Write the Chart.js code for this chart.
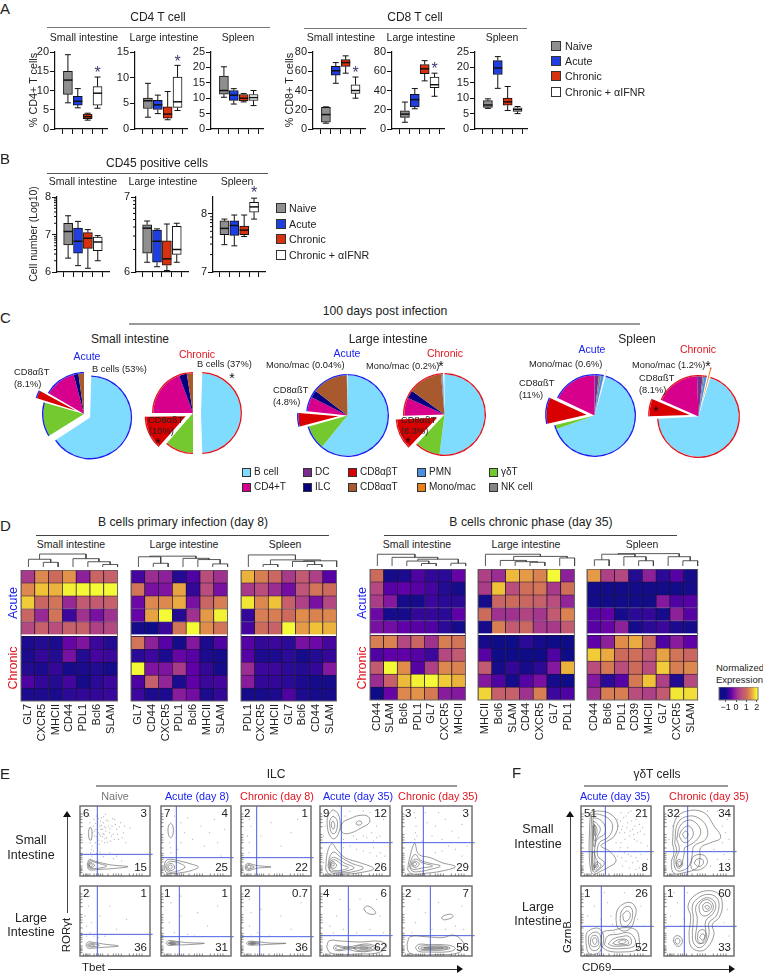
<!DOCTYPE html>
<html>
<head>
<meta charset="utf-8">
<script src="https://cdn.jsdelivr.net/npm/chart.js@4"></script>
<style>
body { margin: 0; background: #fff; }
#fig { position: relative; width: 763px; height: 973px; overflow: hidden; font-family: "Liberation Sans", sans-serif; color: #222; }
#fig canvas { position: absolute; }
.t { position: absolute; white-space: nowrap; line-height: 1; }
.r { position: absolute; }
</style>
</head>
<body>
<div id="fig"></div>
<script>
// box plot rows are [min, q1, median, q3, max] for naive, acute, chronic, chronic + aIFNR
const groupColors = ['#8f8f8f', '#1f3fe0', '#d8310f', '#ffffff'];
const groupNames = ['Naive', 'Acute', 'Chronic', 'Chronic + αIFNR'];

const cd4Small = [[6.8, 9, 12.7, 15, 19.3], [5.5, 6.2, 7.2, 8.5, 10.5], [2.3, 2.7, 3.2, 3.9, 4.1], [5.4, 6.2, 9.3, 11, 13.5]];
const cd4Large = [[2.3, 4, 5.5, 6, 8.9], [3, 3.8, 4.7, 5.6, 6.6], [1.8, 2.1, 2.9, 4.3, 7.3], [3.6, 4.2, 5.3, 10.1, 12.4]];
const cd4Spleen = [[10.3, 11.3, 12.5, 17.2, 20.2], [8.1, 9.3, 11, 12.5, 13.1], [8.8, 9.1, 10, 11.2, 11.5], [7.6, 9.3, 10.2, 11.2, 12.5]];
const cd8Small = [[6, 7, 15, 22.5, 23], [47.5, 56, 60.5, 65, 69], [58, 65, 69, 72, 76], [32, 37, 40, 46, 54]];
const cd8Large = [[7, 12, 15.5, 19, 28], [21, 23, 30.5, 36, 42], [50, 57.5, 62.5, 67, 71], [34, 43, 46, 54, 58]];
const cd8Spleen = [[6.7, 7, 7.8, 9.2, 9.8], [13.2, 17.7, 19.8, 22.2, 23.5], [6, 7.7, 8.8, 10, 13.8], [5, 5.7, 6.3, 6.9, 7.3]];
const cd45Small = [[6.37, 6.72, 7.08, 7.3, 7.5], [6.17, 6.5, 6.82, 7.17, 7.35], [6.1, 6.63, 6.9, 7.05, 7.13], [6.3, 6.57, 6.8, 6.93, 6.97]];
const cd45Large = [[6.13, 6.25, 6.585, 6.63, 6.68], [6.07, 6.13, 6.41, 6.56, 6.575], [6.02, 6.09, 6.175, 6.415, 6.64], [6.13, 6.235, 6.3, 6.61, 6.65]];
const cd45Spleen = [[7.47, 7.64, 7.75, 7.88, 7.91], [7.45, 7.63, 7.8, 7.88, 7.98], [7.61, 7.64, 7.72, 7.79, 7.98], [7.91, 8.03, 8.12, 8.2, 8.27]];
const logMinor = [0.3, 0.48, 0.6, 0.7, 0.78, 0.85, 0.9, 0.95];

// pie shares, same order as cellNames
const cellNames = ['B cell', 'γδT', 'CD8αβT', 'CD4+T', 'DC', 'ILC', 'CD8ααT', 'NK cell', 'PMN', 'Mono/mac'];
const cellColors = ['#7fdcff', '#73c92d', '#d80000', '#d6008c', '#7b2d8e', '#060080', '#a85a2e', '#858585', '#4a90e2', '#e8801a'];
const pieSmallAcute = [66.1, 13.3, 3.9, 12.5, 0, 1.9, 2.2, 0, 0, 0];
const pieSmallChronic = [50, 11.4, 13.6, 19.3, 0, 3.2, 2.5, 0, 0, 0];
const pieLargeAcute = [60.8, 9.7, 6.1, 5.8, 0, 3, 14.2, 0.1, 0, 0.2];
const pieLargeChronic = [52, 10, 12.5, 7.2, 0, 3.3, 13.6, 0.5, 0.3, 0.6];
const pieSpleenAcute = [65, 1.7, 10.8, 18, 1.7, 0, 0, 0.8, 1.1, 0.8];
const pieSpleenChronic = [69.4, 0, 7.5, 17.8, 2.2, 0, 0, 0.6, 1, 1.5];

// heatmap values on the -1..2 normalized scale, top row first
const heatSmall8 = [[0.2, 1.3, 1, 1.4, -0.1, 0.9, 0.8], [1.3, 1.7, 1.6, 1.95, 2, 2, 2], [1.75, 0.9, 1.1, 0, 0.7, 0.7, 0.8], [0.9, 0, 1.1, -0.7, 0.1, -0.3, 0.1], [0.4, 0.8, 0.5, 0.8, 0.8, 0.3, 0.4],
  [-0.9, -0.85, -0.9, -0.45, -0.25, -0.7, -0.85], [-0.9, -0.75, -0.85, -0.3, -0.85, -0.65, -0.7], [-0.85, -0.9, -0.75, -0.95, -0.9, -0.85, -0.95], [-0.6, -0.75, -0.85, -0.65, -0.95, -0.8, -0.7], [-0.9, -0.9, -0.92, -0.8, -0.75, -0.75, -0.72]];
const heatLarge8 = [[-0.65, 0.05, -0.1, -0.85, -0.6, 0.5, 0.1], [1.1, -0.3, -0.25, 1.5, -0.75, 0.5, -0.3], [-0.4, 1.3, 1.3, 1.55, -0.3, 0.9, 1.2], [-0.45, 1.5, 2, -0.85, 0.1, 1.45, 1.95], [-0.95, -1, -0.7, 1.1, 2, 1.35, 1.1],
  [1.1, -0.1, -0.55, -0.95, -0.2, -0.9, -0.6], [-0.8, -0.7, -0.9, -0.45, -0.55, -0.9, -0.95], [2, -0.25, -0.25, 0.2, -0.5, -0.75, -0.95], [-0.6, 0.8, -0.05, -0.9, -0.5, -0.7, -0.65], [-0.7, -0.9, -0.9, -0.15, -0.35, -0.9, -0.75]];
const heatSpleen8 = [[1.6, 1.2, 0.95, 0.2, 0.7, 0.3, -0.55], [0.2, 0.5, 0.05, -0.35, 0.6, 1.1, 1], [1.9, 1.3, 1.7, 0.8, 0.3, -0.3, 0.4], [-0.75, 1.2, 1.2, 1, 1.35, 1.25, 1.3], [-0.65, 1, 0.85, 2, 1.45, 1.7, 1.6],
  [-0.55, -0.75, -0.7, -0.8, -0.3, -0.4, -0.65], [-0.55, -0.9, -0.9, -0.8, -0.95, -0.85, -0.75], [0.05, -0.7, -0.7, -0.8, -0.85, -0.75, -0.2], [-0.15, -0.75, -0.75, -0.8, -0.9, -0.95, -0.95], [-0.95, -0.95, -0.9, -0.6, -0.9, -0.95, -0.95]];
const heatSmall35 = [[1, -0.95, -0.9, -0.6, -0.75, -0.8, -0.45], [0.4, -0.55, -0.5, -0.55, -0.65, -0.85, -0.95], [0.25, -0.2, -0.95, -0.95, -0.7, -0.8, -0.8], [-0.4, -0.95, -0.95, -0.75, -0.75, -0.8, -0.5], [-0.3, -0.35, -0.5, -0.55, -0.6, -0.8, -0.95],
  [1.2, 1.25, 0.4, 0.9, 0.1, 1.2, 1.1], [-0.6, -0.5, -0.5, -0.55, -0.7, 0.4, 0.7], [0.7, 2, 1.35, -0.55, 0.3, 1.3, 1.25], [0.05, 0.8, 1.65, 1.95, 2, 1.75, 1.6], [-1, -0.45, 1.3, 1.4, 1.15, -0.15, -0.2]];
const heatLarge35 = [[0.3, 0.05, 1.65, 1.45, 1.25, 2, -0.1], [0.25, 1.7, 0.5, 1.05, 1.1, 0.2, 1.05], [-0.95, 0.9, 1, 0.95, 0.8, 0.5, -0.05], [1, 0.1, 0.1, 0.35, 0.15, 0.7, 1.25], [-0.95, 1.2, 0.7, 0.95, 0.2, 0.2, 0.7],
  [-0.95, -1, -1, -0.8, -0.95, -1, -1], [-0.55, -1, -1, -1, -1, -0.6, -1], [0.7, -0.95, -0.75, -0.95, -0.8, -0.2, 1.6], [-0.2, -0.6, -0.95, -0.55, -0.3, -0.95, -1], [1.8, 0.8, 0.8, 0.1, 1.2, -0.7, -0.6]];
const heatSpleen35 = [[1.45, 0.3, 0.4, -0.85, -0.1, -0.8, -0.55, -0.95], [-0.98, -0.97, -0.98, -0.98, -0.98, -0.98, -0.97, -0.95], [-0.98, -0.98, -0.98, -0.98, -0.98, -0.2, -0.6, -0.55], [-0.55, -0.5, -0.95, -0.8, -0.75, -0.95, -0.1, -0.55], [-0.55, -0.45, -0.1, -0.95, -0.8, -0.7, -0.9, -0.95],
  [-0.5, -0.1, 1.35, 1.55, 0.95, -0.6, -0.15, -0.5], [1.75, 1.55, 1, 1.05, 0.7, 1.5, 1.1, 0.95], [0.5, 1.15, 0.5, 1, 0.5, 1.75, 1.2, 1.3], [-0.2, -0.8, -0.55, 1.15, 1.7, 0.3, -0.85, 0.4], [0.1, 1.2, 1.2, 0.5, 0.3, 0.7, 1.9, 1.85]];

const markersSmall8 = ['GL7', 'CXCR5', 'MHCII', 'CD44', 'PDL1', 'Bcl6', 'SLAM'];
const markersLarge8 = ['GL7', 'CD44', 'CXCR5', 'PDL1', 'Bcl6', 'MHCII', 'SLAM'];
const markersSpleen8 = ['PDL1', 'CXCR5', 'MHCII', 'GL7', 'Bcl6', 'CD44', 'SLAM'];
const markersSmall35 = ['CD44', 'SLAM', 'Bcl6', 'PDL1', 'GL7', 'CXCR5', 'MHCII'];
const markersLarge35 = ['MHCII', 'Bcl6', 'SLAM', 'CD44', 'CXCR5', 'GL7', 'PDL1'];
const markersSpleen35 = ['CD44', 'Bcl6', 'PDL1', 'CD39', 'MHCII', 'GL7', 'CXCR5', 'SLAM'];

// dendrogram merges: left leaf, right leaf, left height, right height, top height
const treeSmall8 = [[1, 2, 0, 0, 15], [0, 1.5, 0, 15, 25], [5, 6, 0, 0, 8], [4, 5.5, 0, 8, 17], [3, 4.75, 0, 17, 27], [0.75, 3.875, 25, 27, 42]];
const treeLarge8 = [[1, 2, 0, 0, 12], [0, 1.5, 0, 12, 33], [5, 6, 0, 0, 10], [4, 5.5, 0, 10, 24], [3, 4.75, 0, 24, 28], [0.75, 3.875, 33, 28, 35]];
const treeSpleen8 = [[1, 2, 0, 0, 8], [4, 5, 0, 0, 8], [3, 4.5, 0, 8, 18], [3.75, 6, 18, 0, 20], [1.5, 4.9, 8, 20, 23], [0, 3.2, 0, 23, 39]];
const treeSmall35 = [[3, 4, 0, 0, 8], [2, 3.5, 0, 8, 16], [5, 6, 0, 0, 9], [2.75, 5.5, 16, 9, 22], [1, 4.1, 0, 22, 28], [0, 2.55, 0, 28, 38]];
const treeLarge35 = [[3, 4, 0, 0, 12], [2, 3.5, 0, 12, 14], [1, 2.75, 0, 14, 18], [5, 6, 0, 0, 26], [1.9, 5.5, 18, 26, 31], [0, 3.7, 0, 31, 38]];
const treeSpleen35 = [[0, 1, 0, 0, 20], [3, 4, 0, 0, 17], [2, 3.5, 0, 17, 30], [0.5, 2.75, 20, 30, 38], [6, 7, 0, 0, 17], [5, 6.5, 0, 17, 30], [1.6, 5.75, 38, 30, 40]];

const scaleValues = [-1, -0.8, -0.5, -0.2, 0.2, 0.6, 1, 1.4, 1.7, 2];
const scaleColors = ['#0f0c87', '#2a0a96', '#6000a8', '#84189e', '#a83a8a', '#bf5578', '#cc6a5c', '#e3924a', '#f0c238', '#f4fa35'];

// flow plots use 0..210 on both axes; contours and dots are flat x,y lists
const flowTicks = [10, 16, 20, 24, 30, 42, 50, 56, 62, 68, 84, 100, 108, 116, 124, 148, 160, 170, 178, 186];
const naiveSmallLines = [[31, 147, 35, 141, 36, 127, 35, 113, 31, 107, 27, 113, 26, 127, 27, 141, 31, 147], [22, 36, 28, 50, 40, 46, 62, 40, 95, 33, 144, 28, 95, 22, 60, 20, 40, 18, 26, 20, 22, 36], [25, 35, 30, 46, 42, 42, 62, 36, 80, 30, 60, 24, 40, 22, 28, 24, 25, 35], [27, 34, 32, 42, 40, 36, 44, 32, 38, 26, 30, 26, 27, 34], [29, 33, 33, 38, 37, 33, 34, 28, 30, 29, 29, 33]];
const naiveSmallDots = [30, 100, 34, 110, 36, 90, 38, 130, 40, 150, 42, 170, 44, 120, 46, 100, 48, 140, 50, 180, 52, 110, 54, 160, 56, 130, 58, 95, 60, 150, 62, 120, 64, 175, 66, 105, 68, 140, 70, 160, 72, 125, 74, 100, 76, 185, 78, 145, 80, 115, 84, 165, 88, 130, 92, 105, 96, 150, 100, 125, 104, 170, 110, 140, 116, 110, 122, 160, 130, 130, 138, 100, 150, 145, 30, 160, 28, 180, 32, 70, 34, 80, 60, 72, 90, 70, 110, 60, 125, 45,
  44, 135, 47, 158, 49, 118, 53, 145, 55, 172, 57, 108, 59, 125, 61, 165, 63, 140, 65, 152, 67, 118, 69, 128, 71, 178, 73, 148, 75, 112, 77, 135, 79, 168, 82, 102, 86, 150, 90, 142, 94, 120, 98, 172, 102, 110, 106, 155, 112, 125, 118, 148, 126, 115, 134, 150, 36, 60, 40, 75, 50, 68, 70, 58, 80, 64, 100, 52];
const acute8SmallLines = [[29, 159, 35, 152, 37, 137, 35, 122, 29, 115, 23, 122, 21, 137, 23, 152, 29, 159], [9, 28, 15, 46, 30, 50, 60, 44, 90, 36, 112, 27, 90, 16, 60, 10, 30, 7, 15, 12, 9, 28], [13, 28, 19, 40, 32, 44, 56, 38, 72, 27, 56, 17, 32, 11, 20, 15, 13, 28], [17, 27, 22, 36, 30, 38, 38, 33, 41, 27, 38, 20, 30, 16, 22, 18, 17, 27], [22, 27, 25, 32, 29, 33, 33, 30, 34, 27, 31, 22, 27, 21, 23, 23, 22, 27]];
const acute8SmallDots = [25, 100, 28, 85, 30, 70, 60, 160, 70, 130, 80, 175, 95, 110, 120, 150, 130, 90, 145, 130, 160, 170, 170, 100, 40, 180, 50, 80, 60, 100, 180, 60, 190, 140];
const chronic8SmallLines = [[12, 27, 16, 36, 24, 38, 36, 34, 52, 31, 90, 27, 52, 24, 36, 20, 24, 16, 16, 18, 12, 27], [15, 27, 19, 33, 25, 34, 34, 30, 40, 27, 34, 24, 25, 20, 19, 21, 15, 27], [18, 27, 21, 31, 26, 31, 30, 28, 29, 24, 25, 23, 20, 24, 18, 27]];
const chronic8SmallDots = [20, 120, 25, 100, 24, 70, 25, 170, 30, 150, 60, 120, 90, 160, 120, 90, 150, 130, 170, 170];
const naiveLargeLines = [[18, 32, 24, 42, 45, 40, 70, 36, 115, 30, 70, 26, 45, 24, 24, 24, 18, 32], [22, 32, 28, 38, 45, 36, 58, 32, 45, 28, 28, 28, 22, 32], [26, 32, 32, 35, 40, 34, 44, 32, 40, 30, 32, 30, 26, 32]];
const naiveLargeDots = [15, 120, 20, 90, 25, 150, 30, 70, 35, 100, 42, 60, 55, 55, 60, 120, 75, 60, 90, 150, 110, 80, 140, 110, 20, 60, 30, 180];
const acute8LargeLines = [[15, 38, 22, 46, 45, 44, 80, 40, 130, 38, 80, 34, 45, 33, 22, 32, 15, 38], [20, 38, 28, 43, 42, 42, 56, 38, 42, 35, 28, 35, 20, 38], [24, 38, 30, 41, 38, 40, 46, 38, 38, 36, 30, 36, 24, 38], [28, 38, 32, 40, 38, 39, 40, 38, 37, 37, 32, 37, 28, 38]];
const acute8LargeDots = [25, 100, 40, 70, 60, 120, 80, 65, 110, 130, 140, 90, 170, 150, 30, 160, 60, 180, 100, 60];
const chronic8LargeLines = [[16, 38, 24, 44, 48, 43, 85, 39, 135, 38, 85, 35, 48, 33, 24, 33, 16, 38], [21, 38, 28, 42, 42, 41, 56, 38, 42, 36, 28, 35, 21, 38], [25, 38, 31, 40, 38, 40, 46, 38, 38, 36, 31, 36, 25, 38], [29, 38, 33, 40, 38, 39, 40, 38, 37, 37, 33, 37, 29, 38]];
const chronic8LargeDots = [25, 90, 30, 60, 30, 130, 50, 70, 60, 140, 85, 60, 120, 120, 150, 80, 180, 160, 25, 170];
const acute35SmallLines = [[38, 199, 52, 190, 60, 165, 58, 135, 44, 112, 30, 120, 22, 150, 24, 180, 38, 199], [39, 180, 50, 170, 52, 150, 46, 130, 36, 128, 30, 145, 30, 168, 39, 180], [39, 165, 44, 155, 42, 142, 38, 142, 34, 150, 35, 160, 39, 165], [62, 140, 68, 160, 90, 172, 120, 182, 145, 178, 148, 160, 125, 145, 95, 130, 70, 128, 62, 140], [108, 159, 115, 165, 124, 163, 125, 157, 118, 153, 110, 154, 108, 159], [17, 20, 22, 70, 36, 97, 50, 80, 75, 55, 120, 40, 161, 22, 120, 10, 70, 5, 30, 4, 17, 20], [24, 30, 30, 60, 42, 72, 60, 58, 95, 38, 130, 24, 95, 12, 60, 9, 34, 10, 24, 30], [27, 34, 34, 54, 48, 54, 75, 38, 102, 25, 75, 14, 50, 12, 32, 16, 27, 34], [30, 36, 36, 48, 50, 46, 65, 34, 85, 25, 62, 17, 42, 17, 32, 24, 30, 36], [32, 36, 38, 44, 46, 38, 50, 32, 44, 24, 36, 24, 32, 30, 32, 36], [35, 36, 39, 40, 43, 36, 42, 31, 38, 30, 35, 32, 35, 36]];
const acute35SmallDots = [70, 110, 75, 180, 90, 195, 100, 120, 110, 110, 130, 120, 140, 115, 155, 130, 170, 150, 180, 120, 190, 170, 185, 100, 175, 190, 70, 85, 90, 90, 110, 80, 130, 75, 160, 85, 180, 70, 195, 60, 195, 30, 185, 40, 170, 60, 150, 70, 10, 120, 15, 150, 10, 40, 12, 180, 130, 195, 150, 190, 170, 115, 160, 105];
const chronic35SmallLines = [[17, 20, 22, 50, 38, 98, 50, 65, 85, 55, 120, 40, 160, 28, 120, 15, 70, 8, 30, 6, 17, 20], [22, 28, 28, 50, 40, 65, 55, 48, 85, 38, 115, 30, 85, 20, 55, 14, 32, 14, 22, 28], [26, 30, 32, 46, 44, 50, 60, 40, 92, 30, 60, 24, 42, 20, 28, 22, 26, 30], [30, 34, 36, 44, 46, 42, 52, 36, 44, 27, 34, 27, 30, 34], [33, 36, 38, 41, 44, 36, 40, 31, 35, 31, 33, 36]];
const chronic35SmallDots = [38, 110, 40, 130, 42, 150, 40, 175, 36, 190, 45, 120, 60, 105, 75, 160, 90, 120, 100, 150, 120, 110, 130, 170, 150, 135, 170, 115, 180, 155, 195, 90, 160, 80, 140, 90, 120, 75, 100, 70, 180, 60, 190, 40, 70, 190, 110, 190];
const acute35LargeLines = [[131, 142, 142, 150, 160, 140, 167, 128, 155, 125, 140, 130, 131, 142], [20, 28, 28, 46, 60, 45, 120, 42, 180, 44, 200, 30, 175, 10, 120, 6, 60, 5, 30, 10, 20, 28], [40, 24, 45, 32, 62, 30, 90, 28, 110, 32, 145, 36, 175, 24, 145, 14, 110, 14, 85, 19, 60, 16, 45, 18, 40, 24], [46, 24, 52, 29, 62, 26, 75, 23, 62, 20, 52, 19, 46, 24], [100, 24, 112, 30, 140, 32, 165, 24, 140, 16, 112, 17, 100, 24], [110, 24, 125, 28, 145, 26, 155, 24, 140, 20, 122, 20, 110, 24], [118, 24, 130, 26, 145, 24, 130, 22, 118, 24], [70, 24, 90, 26, 110, 24, 90, 22, 70, 24]];
const acute35LargeDots = [30, 90, 50, 120, 70, 80, 90, 140, 110, 70, 120, 170, 150, 80, 180, 120, 190, 70, 170, 170, 60, 170, 40, 70];
const chronic35LargeLines = [[118, 115, 128, 122, 148, 125, 153, 118, 140, 111, 124, 109, 118, 115], [15, 35, 25, 58, 70, 58, 120, 55, 158, 62, 185, 35, 170, 10, 100, 4, 40, 4, 20, 12, 15, 35], [40, 25, 50, 35, 80, 34, 120, 34, 150, 30, 160, 22, 140, 13, 80, 12, 50, 14, 40, 25], [48, 24, 56, 30, 85, 30, 120, 30, 145, 24, 125, 18, 85, 17, 56, 18, 48, 24], [56, 24, 85, 27, 120, 27, 138, 24, 120, 21, 85, 20, 60, 20, 56, 24], [65, 24, 85, 25, 115, 25, 125, 24, 115, 23, 85, 22, 65, 24]];
const chronic35LargeDots = [40, 100, 70, 130, 90, 80, 110, 160, 130, 80, 160, 90, 180, 150, 185, 80, 50, 170, 30, 70];
const gdAcuteSmallLines = [[28, 190, 55, 195, 90, 185, 110, 155, 100, 120, 80, 105, 60, 90, 85, 75, 105, 45, 80, 25, 60, 15, 38, 5, 30, 15, 25, 60, 25, 120, 28, 190], [32, 185, 55, 185, 85, 170, 95, 145, 80, 115, 55, 100, 50, 60, 70, 40, 55, 20, 38, 12, 33, 30, 30, 100, 32, 185], [36, 175, 55, 170, 72, 150, 70, 125, 50, 112, 42, 90, 42, 60, 50, 40, 42, 25, 36, 40, 35, 100, 36, 175], [38, 165, 50, 155, 58, 140, 50, 120, 42, 105, 38, 110, 38, 140, 38, 165], [40, 155, 47, 145, 47, 125, 42, 120, 40, 135, 40, 155], [38, 30, 48, 42, 60, 32, 48, 18, 40, 20, 38, 30], [42, 30, 48, 36, 52, 30, 46, 24, 42, 30], [34, 70, 40, 70, 40, 20, 34, 20, 34, 70], [36, 150, 42, 150, 42, 90, 37, 90, 36, 150]];
const gdAcuteSmallDots = [110, 170, 120, 190, 125, 150, 130, 130, 135, 180, 140, 160, 145, 120, 150, 195, 155, 140, 160, 110, 165, 170, 170, 130, 175, 155, 180, 100, 185, 145, 190, 125, 195, 175, 200, 90, 120, 100, 130, 70, 140, 85, 150, 60, 160, 75, 170, 45, 180, 65, 190, 30, 200, 50, 110, 60, 125, 30, 145, 25, 165, 20, 185, 15, 105, 100, 118, 85,
  112, 150, 116, 130, 118, 165, 122, 140, 128, 175, 132, 110, 138, 145, 142, 190, 148, 135, 152, 165, 158, 125, 162, 150, 168, 105, 172, 185, 178, 135, 115, 75, 122, 55, 135, 45, 142, 65, 155, 40, 165, 55, 175, 25];
const gdChronicSmallLines = [[25, 100, 35, 170, 70, 195, 120, 190, 150, 150, 170, 115, 140, 100, 110, 85, 108, 55, 100, 25, 60, 10, 30, 8, 22, 40, 30, 70, 25, 100], [32, 100, 42, 160, 75, 180, 110, 170, 130, 140, 125, 110, 90, 90, 85, 65, 75, 30, 50, 15, 35, 20, 30, 50, 38, 75, 32, 100], [38, 110, 48, 150, 75, 168, 100, 155, 110, 130, 95, 105, 72, 90, 62, 85, 60, 65, 50, 30, 40, 30, 36, 50, 46, 80, 38, 110], [45, 120, 55, 140, 75, 150, 88, 130, 80, 110, 60, 100, 45, 120], [55, 125, 65, 135, 72, 125, 65, 112, 55, 125], [36, 38, 44, 50, 56, 40, 50, 25, 40, 25, 36, 38], [41, 38, 46, 44, 52, 38, 47, 30, 41, 38], [80, 35, 90, 60, 120, 62, 130, 40, 110, 20, 85, 20, 80, 35], [90, 38, 98, 50, 115, 50, 118, 38, 105, 28, 90, 38]];
const gdChronicSmallDots = [20, 190, 25, 150, 15, 110, 175, 150, 185, 130, 195, 110, 190, 170, 175, 100, 180, 65, 195, 50, 160, 50, 140, 30, 170, 25, 150, 80, 130, 195, 160, 195, 185, 195, 200, 180];
const gdAcuteLargeLines = [[105, 110, 108, 135, 125, 155, 150, 160, 165, 140, 160, 110, 150, 85, 130, 75, 110, 85, 105, 110], [118, 120, 122, 135, 135, 148, 150, 145, 155, 125, 148, 100, 132, 88, 120, 95, 118, 120], [125, 122, 130, 130, 140, 135, 148, 125, 142, 108, 130, 105, 125, 122], [15, 40, 18, 70, 45, 84, 62, 75, 68, 50, 58, 15, 40, 5, 22, 10, 15, 40], [22, 42, 25, 62, 45, 72, 58, 62, 60, 40, 48, 18, 30, 20, 22, 42], [28, 45, 32, 58, 45, 62, 52, 50, 52, 34, 40, 28, 30, 32, 28, 45], [34, 46, 38, 54, 46, 52, 47, 40, 40, 35, 34, 46], [60, 30, 65, 70, 100, 78, 130, 85, 165, 78, 175, 45, 170, 20, 120, 12, 80, 16, 60, 30], [70, 34, 80, 60, 110, 65, 140, 70, 160, 55, 160, 30, 120, 22, 85, 24, 70, 34], [82, 36, 95, 50, 120, 58, 145, 58, 150, 36, 120, 30, 95, 30, 82, 36], [95, 38, 110, 48, 135, 50, 143, 38, 125, 34, 105, 34, 95, 38], [112, 42, 125, 48, 135, 44, 128, 38, 115, 38, 112, 42]];
const gdAcuteLargeDots = [20, 120, 40, 150, 60, 110, 80, 160, 90, 120, 100, 70, 170, 110, 180, 150, 190, 90, 70, 190, 130, 190, 95, 95];
const gdChronicLargeLines = [[75, 70, 80, 120, 72, 150, 90, 180, 130, 196, 165, 185, 175, 150, 165, 115, 145, 95, 150, 65, 130, 25, 105, 15, 80, 30, 75, 70], [85, 70, 88, 115, 85, 150, 100, 172, 130, 185, 158, 175, 165, 148, 155, 118, 135, 100, 135, 65, 122, 35, 105, 25, 88, 40, 85, 70], [95, 65, 100, 110, 95, 145, 108, 165, 130, 175, 150, 165, 155, 145, 145, 125, 125, 105, 125, 65, 115, 40, 103, 38, 95, 50, 95, 65], [105, 150, 115, 165, 135, 168, 148, 150, 140, 130, 120, 120, 108, 130, 105, 150], [115, 150, 125, 160, 138, 157, 142, 145, 132, 135, 120, 135, 115, 150], [122, 148, 130, 152, 136, 146, 130, 140, 122, 148], [100, 55, 105, 75, 120, 78, 128, 60, 120, 40, 105, 40, 100, 55], [107, 55, 112, 65, 120, 65, 122, 55, 115, 48, 107, 55], [28, 44, 32, 58, 45, 60, 55, 48, 50, 32, 38, 30, 28, 44], [33, 44, 36, 52, 44, 52, 48, 46, 45, 38, 38, 36, 33, 44]];
const gdChronicLargeDots = [20, 120, 40, 160, 60, 110, 50, 90, 180, 100, 190, 140, 195, 60, 190, 20, 70, 190, 30, 190];

const blue = '#1a22ee';
const red = '#e0141e';
const fig = document.getElementById('fig');

Chart.defaults.font.family = '"Liberation Sans", sans-serif';
Chart.defaults.color = '#222';
Chart.defaults.animation = false;
Chart.defaults.responsive = false;
Chart.defaults.devicePixelRatio = 1;
Chart.defaults.plugins.legend.display = false;
Chart.defaults.plugins.tooltip.enabled = false;
Chart.defaults.layout.autoPadding = false;

function place(left, top, w, h) {
  const c = document.createElement('canvas');
  c.width = w;
  c.height = h;
  c.style.left = left + 'px';
  c.style.top = top + 'px';
  fig.appendChild(c);
  return c;
}

function text(s, x, y, size, opts) {
  opts = opts || {};
  const d = document.createElement('div');
  d.className = 't';
  d.textContent = s;
  d.style.left = x + 'px';
  d.style.top = y + 'px';
  d.style.fontSize = size + 'px';
  if (opts.color) d.style.color = opts.color;
  let tf = 'translateY(-50%)';
  if (opts.center) tf = 'translate(-50%,-50%)';
  if (opts.right) tf = 'translate(-100%,-50%)';
  if (opts.up) tf = 'translate(-50%,-50%) rotate(-90deg)';
  d.style.transform = tf;
  fig.appendChild(d);
}

function rule(x1, y1, x2, y2, color, w) {
  const d = document.createElement('div');
  d.className = 'r';
  d.style.left = Math.min(x1, x2) + 'px';
  d.style.top = Math.min(y1, y2) + 'px';
  d.style.width = (x1 === x2 ? w : Math.abs(x2 - x1)) + 'px';
  d.style.height = (y1 === y2 ? w : Math.abs(y2 - y1)) + 'px';
  d.style.background = color;
  fig.appendChild(d);
}

function patch(x, y, size, color) {
  const d = document.createElement('div');
  d.className = 'r';
  d.style.left = x + 'px';
  d.style.top = (y - size / 2) + 'px';
  d.style.width = size + 'px';
  d.style.height = size + 'px';
  d.style.boxSizing = 'border-box';
  d.style.background = color;
  d.style.border = '1px solid #333';
  fig.appendChild(d);
}

function arrowHead(x, y, dir) {
  const d = document.createElement('div');
  d.className = 'r';
  d.style.left = x + 'px';
  d.style.top = y + 'px';
  d.style.width = 0;
  d.style.height = 0;
  if (dir === 'up') {
    d.style.borderLeft = '4px solid transparent';
    d.style.borderRight = '4px solid transparent';
    d.style.borderBottom = '6px solid #111';
  } else {
    d.style.borderTop = '4px solid transparent';
    d.style.borderBottom = '4px solid transparent';
    d.style.borderLeft = '6px solid #111';
  }
  fig.appendChild(d);
}

const boxMarks = {
  id: 'boxMarks',
  afterDatasetsDraw(chart, args, opts) {
    const ctx = chart.ctx, xs = chart.scales.x, ys = chart.scales.y;
    ctx.save();
    ctx.strokeStyle = '#111';
    ctx.lineWidth = 1;
    opts.rows.forEach((row, i) => {
      const x = xs.getPixelForValue(i);
      const p = row.map(v => ys.getPixelForValue(v));
      ctx.beginPath();
      ctx.moveTo(x, p[0]); ctx.lineTo(x, p[1]);
      ctx.moveTo(x, p[3]); ctx.lineTo(x, p[4]);
      ctx.moveTo(x - 3, p[0]); ctx.lineTo(x + 3, p[0]);
      ctx.moveTo(x - 3, p[4]); ctx.lineTo(x + 3, p[4]);
      ctx.stroke();
      ctx.lineWidth = 1.5;
      ctx.beginPath();
      ctx.moveTo(x - 4.5, p[2]); ctx.lineTo(x + 4.5, p[2]);
      ctx.stroke();
      ctx.lineWidth = 1;
    });
    if (opts.star != null) {
      ctx.fillStyle = '#3c3c6e';
      ctx.font = '16px "Liberation Sans"';
      ctx.textAlign = 'center';
      ctx.textBaseline = 'middle';
      ctx.fillText('*', xs.getPixelForValue(3), ys.getPixelForValue(opts.star) + 3);
    }
    if (opts.logTicks) {
      const left = xs.left;
      for (let d = Math.floor(ys.min); d < ys.max; d++) {
        logMinor.forEach(m => {
          if (d + m > ys.max) return;
          const py = ys.getPixelForValue(d + m);
          ctx.beginPath();
          ctx.moveTo(left, py); ctx.lineTo(left - 3, py);
          ctx.stroke();
        });
      }
    }
    ctx.restore();
  }
};

function boxPanel(rows, axisX, top, bottom, yMin, yMax, step, xMin, star, logTicks) {
  const plotW = 52;
  const c = place(axisX - 30, top - 14, 30 + plotW + 2, bottom - top + 14 + 8);
  new Chart(c, {
    type: 'bar',
    data: {
      datasets: [{
        data: rows.map((r, i) => ({ x: i, y: [r[1], r[3]] })),
        backgroundColor: groupColors,
        borderColor: '#111',
        borderWidth: 1,
        borderSkipped: false,
        barThickness: 9
      }]
    },
    options: {
      layout: { padding: { top: 14, right: 2 } },
      scales: {
        x: {
          type: 'linear', min: xMin, max: xMin + 3.95,
          afterBuildTicks: s => { s.ticks = [0, 1, 2, 3].map(v => ({ value: v })); },
          afterFit: s => { s.height = 8; },
          ticks: { callback: () => '', display: true, padding: 0 },
          grid: { drawOnChartArea: false, tickLength: 5, color: '#111', lineWidth: 1 },
          border: { color: '#111', width: 1.2 }
        },
        y: {
          min: yMin, max: yMax,
          afterFit: s => { s.width = 30; },
          ticks: { stepSize: step, includeBounds: false, font: { size: 11 }, padding: 1, autoSkip: false },
          grid: { drawOnChartArea: false, tickLength: 5, color: '#111', lineWidth: 1 },
          border: { color: '#111', width: 1.2 }
        }
      },
      plugins: { boxMarks: { rows: rows, star: star, logTicks: logTicks } }
    },
    plugins: [boxMarks]
  });
}

// the library grows an offset arc's radius depending on its sweep, so take that back
const pieTrim = {
  id: 'pieTrim',
  afterDatasetsUpdate(chart, args, opts) {
    chart.getSortedVisibleDatasetMetas().forEach(meta => {
      meta.data.forEach((arc, i) => {
        const grow = opts.shift[i] * (1 - Math.sin(Math.min(Math.PI, arc.circumference || 0)));
        arc.outerRadius -= grow;
        arc.innerRadius = arc.innerRadius > 1 ? arc.innerRadius - grow : 0;
      });
    });
  }
};

function pie(values, cx, cy, radius, rotation, shift, ringColor) {
  const offsets = shift.map(d => d * 4);
  const maxOff = Math.max.apply(null, offsets);
  const size = Math.ceil(2 * radius + maxOff);
  const c = place(cx - size / 2, cy - size / 2, size, size);
  new Chart(c, {
    type: 'pie',
    data: {
      labels: cellNames,
      datasets: [
        { data: values, backgroundColor: ringColor, borderWidth: 0, offset: offsets, weight: 1 },
        { data: values, backgroundColor: cellColors, borderWidth: 0, offset: offsets, weight: 30 }
      ]
    },
    options: { rotation: rotation, layout: { padding: 0 }, plugins: { pieTrim: { shift: shift } } },
    plugins: [pieTrim]
  });
}

function heatColor(v) {
  for (let i = 1; i < scaleValues.length; i++) {
    if (v <= scaleValues[i]) {
      const f = (v - scaleValues[i - 1]) / (scaleValues[i] - scaleValues[i - 1]);
      const a = scaleColors[i - 1], b = scaleColors[i];
      const mix = k => Math.round(parseInt(a.substr(k, 2), 16) * (1 - f) + parseInt(b.substr(k, 2), 16) * f);
      return 'rgb(' + mix(1) + ',' + mix(3) + ',' + mix(5) + ')';
    }
  }
  return scaleColors[scaleColors.length - 1];
}

const frame = {
  id: 'frame',
  afterDraw(chart, args, opts) {
    const a = chart.chartArea, ctx = chart.ctx;
    ctx.save();
    ctx.strokeStyle = opts.color || '#666';
    ctx.lineWidth = opts.width || 1;
    ctx.strokeRect(a.left, a.top, a.right - a.left, a.bottom - a.top);
    if (opts.ticks) {
      ctx.lineWidth = 0.7;
      ctx.strokeStyle = '#555';
      ctx.beginPath();
      opts.ticks.forEach(v => {
        const px = chart.scales.x.getPixelForValue(v), py = chart.scales.y.getPixelForValue(v);
        ctx.moveTo(px, a.bottom); ctx.lineTo(px, a.bottom - 2.5);
        ctx.moveTo(a.left, py); ctx.lineTo(a.left + 2.5, py);
      });
      ctx.stroke();
    }
    ctx.restore();
  }
};

function heatmap(rows, labels, tree, left, right, top, bottom) {
  const h = bottom - top;
  const c = place(left - 2, top, right - left + 4, h + 50);
  const datasets = [];
  rows.slice().reverse().forEach((row, i) => {
    if (i === 5) datasets.push({ data: labels.map(() => 0.12), backgroundColor: '#fff', borderWidth: 0 });
    datasets.push({ data: labels.map(() => 1), backgroundColor: row.map(heatColor), borderColor: '#1c1030', borderWidth: 0.7 });
  });
  new Chart(c, {
    type: 'bar',
    data: { labels: labels, datasets: datasets },
    options: {
      layout: { padding: { left: 2, right: 2 } },
      datasets: { bar: { barPercentage: 1, categoryPercentage: 1 } },
      scales: {
        x: {
          stacked: true,
          afterFit: s => { s.height = 50; },
          grid: { display: false, drawTicks: false },
          border: { display: false },
          ticks: { minRotation: 90, maxRotation: 90, autoSkip: false, font: { size: 11 }, padding: 3, color: '#222' }
        },
        y: { stacked: true, min: 0, max: 10.12, display: false }
      },
      plugins: { frame: { color: '#666', width: 1 } }
    },
    plugins: [frame]
  });
  const dc = place(left, top - 17, right - left, 17);
  new Chart(dc, {
    type: 'scatter',
    data: {
      datasets: tree.map(m => ({
        data: [{ x: m[0], y: m[2] }, { x: m[0], y: m[4] }, { x: m[1], y: m[4] }, { x: m[1], y: m[3] }],
        showLine: true, pointRadius: 0, borderColor: '#444', borderWidth: 0.9, clip: false
      }))
    },
    options: {
      layout: { padding: { top: 1, bottom: 3 } },
      scales: {
        x: { type: 'linear', min: -0.5, max: labels.length - 0.5, display: false },
        y: { min: 0, max: 42, display: false }
      }
    }
  });
}

function xy(flat) {
  const out = [];
  for (let i = 0; i < flat.length; i += 2) out.push({ x: flat[i], y: flat[i + 1] });
  return out;
}

function flowPanel(left, top, gateX, gateY, lines, dots, nums) {
  const c = place(left - 3, top - 3, 79, 76);
  const datasets = [{ data: xy(dots), showLine: false, pointRadius: 0.5, pointBorderWidth: 0, backgroundColor: '#8a8a8a' }];
  lines.forEach(l => datasets.push({ data: xy(l), showLine: true, pointRadius: 0, tension: 0.4, borderColor: '#555', borderWidth: 0.6 }));
  datasets.push({ data: [{ x: gateX, y: 0 }, { x: gateX, y: 210 }], showLine: true, pointRadius: 0, borderColor: '#4a5fe6', borderWidth: 1, clip: false });
  datasets.push({ data: [{ x: 0, y: gateY }, { x: 218, y: gateY }], showLine: true, pointRadius: 0, borderColor: '#4a5fe6', borderWidth: 1, clip: false });
  new Chart(c, {
    type: 'scatter',
    data: { datasets: datasets },
    options: {
      layout: { padding: { left: 3, top: 3, right: 6, bottom: 3 } },
      scales: {
        x: { type: 'linear', min: 0, max: 210, display: false },
        y: { min: 0, max: 210, display: false }
      },
      plugins: { frame: { color: '#707070', width: 1.5, ticks: flowTicks } }
    },
    plugins: [frame]
  });
  text(nums[0], left + 3, top + 8, 11.5);
  text(nums[1], left + 67, top + 8, 11.5, { right: true });
  text(nums[2], left + 67, top + 62, 11.5, { right: true });
}

// panel A
boxPanel(cd4Small, 55, 52, 129, 0, 20, 5, -0.65, 15.1);
boxPanel(cd4Large, 134.5, 52, 129, 0, 15, 5, -0.65, 13.5);
boxPanel(cd4Spleen, 211, 52, 129, 0, 25, 5, -0.65);
boxPanel(cd8Small, 313, 52, 129, 0, 80, 20, -0.65, 60.5);
boxPanel(cd8Large, 392, 52, 129, 0, 80, 20, -0.65, 65);
boxPanel(cd8Spleen, 475, 52, 129, 0, 25, 5, -0.65);
text('A', 0, 8, 15);
text('CD4 T cell', 158, 17, 12, { center: true });
text('CD8 T cell', 415, 17, 12, { center: true });
rule(47, 27, 270, 27, '#777', 1);
rule(304, 28, 527, 28, '#777', 1);
[['Small intestine', 84], ['Large intestine', 164], ['Spleen', 238], ['Small intestine', 341], ['Large intestine', 421], ['Spleen', 502]].forEach(s => text(s[0], s[1], 37, 10.5, { center: true }));
text('% CD4+ T cells', 33, 90, 10.8, { up: true });
text('% CD8+ T cells', 289, 90, 10.8, { up: true });
[46, 61, 76, 92].forEach((y, i) => {
  patch(551, y, 10, groupColors[i]);
  text(groupNames[i], 565, y, 10.7);
});

// panel B
boxPanel(cd45Small, 57, 197, 272, 6, 8, 1, -0.47, null, true);
boxPanel(cd45Large, 136, 197, 272, 6, 7, 1, -0.47, null, true);
boxPanel(cd45Spleen, 213, 197, 272, 7, 8.29, 1, -0.5, 8.4, true);
text('B', 0, 158, 15);
text('CD45 positive cells', 157, 163, 12, { center: true });
rule(47, 173, 268, 173, '#555', 1);
[['Small intestine', 83], ['Large intestine', 163], ['Spleen', 237]].forEach(s => text(s[0], s[1], 181, 10.5, { center: true }));
text('Cell number (Log10)', 33, 234, 10.5, { up: true });
[208, 224, 239, 255].forEach((y, i) => {
  patch(276, y, 10, groupColors[i]);
  text(groupNames[i], 289, y, 10.7);
});

// panel C
pie(pieSmallAcute, 84, 414, 42, 0, [7, 0, 9, 0, 0, 0, 0, 0, 0, 0], blue);
pie(pieSmallChronic, 193, 413, 41, 0, [8, 0, 8, 0, 0, 0, 0, 0, 0, 0], red);
pie(pieLargeAcute, 347, 415, 41.5, 0, [0, 0, 9, 0, 0, 0, 0, 0, 0, 6], blue);
pie(pieLargeChronic, 444, 414, 41.5, 0, [0, 0, 8, 0, 0, 0, 0, 0, 0, 9], red);
pie(pieSpleenAcute, 594, 415, 41.5, 16, [0, 0, 8, 0, 0, 0, 0, 0, 0, 6], blue);
pie(pieSpleenChronic, 698, 416, 41.5, 17, [0, 0, 9, 0, 0, 0, 0, 0, 0, 9], red);
text('C', 0, 317, 15);
text('100 days post infection', 385, 311, 12.2, { center: true });
rule(129, 323, 640, 323, '#999', 2);
text('Small intestine', 130, 339, 12, { center: true });
text('Large intestine', 388, 339, 12, { center: true });
text('Spleen', 637, 339, 12, { center: true });
[['Acute', 87, 356, blue], ['Chronic', 197, 354, red], ['Acute', 347, 353, blue], ['Chronic', 445, 353, red], ['Acute', 592, 349, blue], ['Chronic', 698, 349, red]].forEach(s => text(s[0], s[1], s[2], 10.5, { center: true, color: s[3] }));
[['CD8αßT', 14, 373], ['(8.1%)', 14, 385], ['B cells (53%)', 92, 370], ['B cells (37%)', 197, 365], ['CD8αßT', 148, 421], ['(10%)', 149, 432],
 ['Mono/mac (0.04%)', 266, 366], ['CD8αßT', 273, 391], ['(4.8%)', 273, 403], ['Mono/mac (0.2%)', 366, 367], ['CD8αßT', 401, 421], ['(8.3%)', 401, 432],
 ['Mono/mac (0.6%)', 529, 365], ['CD8αßT', 519, 384], ['(11%)', 519, 396], ['Mono/mac (1.2%)', 632, 366], ['CD8αßT', 639, 379], ['(8.1%)', 639, 391]].forEach(s => text(s[0], s[1], s[2], 9.3));
[[232, 378], [158, 443], [441, 366], [408, 442], [708, 366], [656, 411]].forEach(s => text('*', s[0], s[1], 14, { center: true, color: '#111' }));
const legendRows = [[472, 'B cell', 'DC', 'CD8αβT', 'PMN', 'γδT'], [487, 'CD4+T', 'ILC', 'CD8ααT', 'Mono/mac', 'NK cell']];
const legendColors = [['#7fdcff', '#7b2d8e', '#d80000', '#4a90e2', '#73c92d'], ['#d6008c', '#060080', '#a85a2e', '#e8801a', '#858585']];
legendRows.forEach((row, r) => {
  [242, 303, 348, 417, 489].forEach((x, i) => {
    patch(x, row[0], 9, legendColors[r][i]);
    text(row[i + 1], x + 12, row[0], 10);
  });
});

// panel D
heatmap(heatSmall8, markersSmall8, treeSmall8, 21, 125, 570, 701);
heatmap(heatLarge8, markersLarge8, treeLarge8, 131, 235, 570, 701);
heatmap(heatSpleen8, markersSpleen8, treeSpleen8, 241, 344, 570, 701);
heatmap(heatSmall35, markersSmall35, treeSmall35, 370, 473, 569, 700);
heatmap(heatLarge35, markersLarge35, treeLarge35, 478, 582, 569, 700);
heatmap(heatSpleen35, markersSpleen35, treeSpleen35, 587, 705, 569, 700);
text('D', 0, 525, 15);
text('B cells primary infection (day 8)', 183, 522, 12.2, { center: true });
text('B cells chronic phase (day 35)', 531, 522, 12.2, { center: true });
rule(36, 535, 329, 535, '#444', 1);
rule(384, 535, 677, 535, '#444', 1);
[['Small intestine', 71], ['Large intestine', 184], ['Spleen', 285], ['Small intestine', 417], ['Large intestine', 526], ['Spleen', 642]].forEach(s => text(s[0], s[1], 544, 10.5, { center: true }));
[13, 362].forEach(x => {
  text('Acute', x, 603, 12.5, { up: true, color: blue });
  text('Chronic', x, 668, 12.5, { up: true, color: red });
});
text('Normalized', 716, 668, 9.5);
text('Expression', 716, 680, 9.5);

const barPaint = {
  id: 'barPaint',
  beforeDatasetsDraw(chart) {
    const a = chart.chartArea, ctx = chart.ctx, xs = chart.scales.x;
    const g = ctx.createLinearGradient(xs.getPixelForValue(-1), 0, xs.getPixelForValue(2), 0);
    scaleValues.forEach((v, i) => g.addColorStop((v + 1) / 3, scaleColors[i]));
    ctx.save();
    ctx.fillStyle = g;
    ctx.fillRect(a.left, a.top, a.right - a.left, a.bottom - a.top);
    ctx.restore();
  }
};
new Chart(place(710, 687, 53, 28), {
  type: 'scatter',
  data: { datasets: [{ data: [], pointRadius: 0 }] },
  options: {
    layout: { padding: { left: 9, right: 5 } },
    scales: {
      x: {
        type: 'linear', min: -1.65, max: 2.13,
        afterBuildTicks: s => { s.ticks = [-1, 0, 1, 2].map(v => ({ value: v })); },
        afterFit: s => { s.height = 15; },
        ticks: { callback: v => (v < 0 ? '−1' : v), font: { size: 9 }, autoSkip: false, maxRotation: 0, padding: 0 },
        grid: { drawOnChartArea: false, tickLength: 2, color: '#555' },
        border: { display: false }
      },
      y: { display: false, min: 0, max: 1 }
    },
    plugins: { frame: { color: '#777', width: 1 } }
  },
  plugins: [barPaint, frame]
});

// panels E and F
flowPanel(80, 806, 52, 65, naiveSmallLines, naiveSmallDots, ['6', '3', '15']);
flowPanel(161, 806, 46, 55, acute8SmallLines, acute8SmallDots, ['7', '4', '25']);
flowPanel(241, 806, 47, 55, chronic8SmallLines, chronic8SmallDots, ['2', '1', '22']);
flowPanel(320, 806, 64, 100, acute35SmallLines, acute35SmallDots, ['9', '12', '26']);
flowPanel(402, 806, 64, 100, chronic35SmallLines, chronic35SmallDots, ['3', '3', '29']);
flowPanel(80, 886, 52, 65, naiveLargeLines, naiveLargeDots, ['2', '1', '36']);
flowPanel(161, 886, 55, 58, acute8LargeLines, acute8LargeDots, ['1', '1', '31']);
flowPanel(241, 886, 56, 58, chronic8LargeLines, chronic8LargeDots, ['2', '0.7', '36']);
flowPanel(320, 886, 85, 61, acute35LargeLines, acute35LargeDots, ['4', '6', '62']);
flowPanel(402, 886, 85, 61, chronic35LargeLines, chronic35LargeDots, ['2', '7', '56']);
flowPanel(581, 806, 73, 73, gdAcuteSmallLines, gdAcuteSmallDots, ['51', '21', '8']);
flowPanel(664, 806, 71, 73, gdChronicSmallLines, gdChronicSmallDots, ['32', '34', '13']);
flowPanel(581, 886, 61, 89, gdAcuteLargeLines, gdAcuteLargeDots, ['1', '26', '52']);
flowPanel(664, 886, 61, 89, gdChronicLargeLines, gdChronicLargeDots, ['1', '60', '33']);
text('E', 0, 773, 15);
text('ILC', 276, 774, 12, { center: true });
rule(96, 785, 457, 785, '#999', 1.5);
[['Naive', 115, '#777'], ['Acute (day 8)', 197, blue], ['Chronic (day 8)', 277, red], ['Acute (day 35)', 358, blue], ['Chronic (day 35)', 438, red]].forEach(s => text(s[0], s[1], 796, 10.8, { center: true, color: s[2] }));
text('Small', 31, 840, 12.5, { center: true });
text('Intestine', 31, 855, 12.5, { center: true });
text('Large', 31, 918, 12.5, { center: true });
text('Intestine', 31, 932, 12.5, { center: true });
text('RORγt', 67, 935, 11.5, { up: true });
rule(67, 815, 67, 913, '#444', 1);
arrowHead(63, 811, 'up');
text('Tbet', 82, 968, 11.5);
rule(108, 969, 458, 969, '#333', 1);
arrowHead(457, 965, 'right');
text('F', 512, 772, 15);
text('γδT cells', 657, 774, 12, { center: true });
rule(584, 785, 728, 785, '#999', 1.5);
text('Acute (day 35)', 615, 796, 10.8, { center: true, color: blue });
text('Chronic (day 35)', 709, 796, 10.8, { center: true, color: red });
text('Small', 538, 829, 12.5, { center: true });
text('Intestine', 538, 844, 12.5, { center: true });
text('Large', 538, 907, 12.5, { center: true });
text('Intestine', 538, 921, 12.5, { center: true });
text('GzmB', 568, 937, 11.5, { up: true });
rule(570, 815, 570, 922, '#444', 1);
arrowHead(566, 811, 'up');
text('CD69', 582, 968, 11.5);
rule(612, 969, 731, 969, '#333', 1);
arrowHead(729, 965, 'right');
</script>
</body>
</html>
